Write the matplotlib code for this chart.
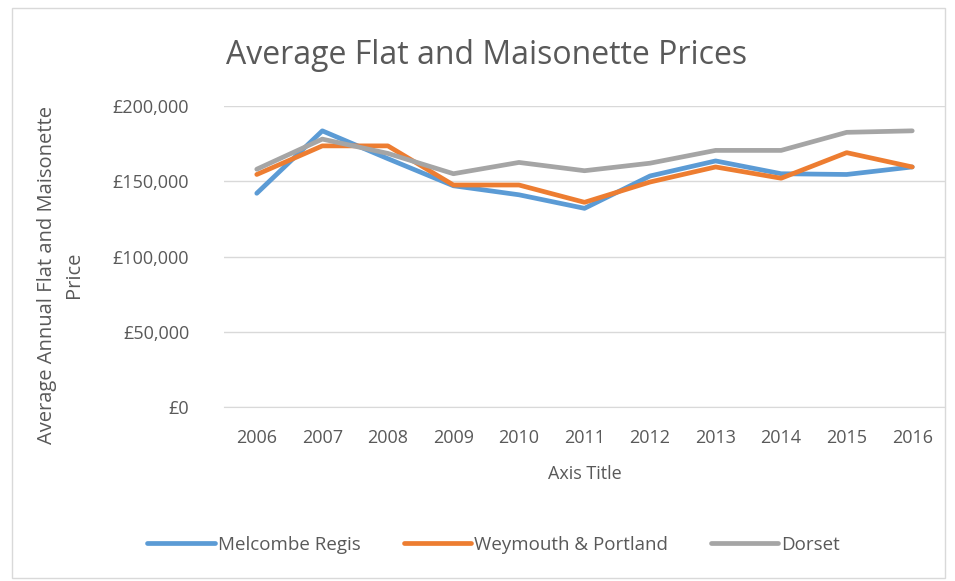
import numpy as np
import matplotlib.pyplot as plt
from matplotlib.patches import Rectangle
from matplotlib.ticker import FuncFormatter

years = ['2006', '2007', '2008', '2009', '2010', '2011', '2012', '2013', '2014', '2015', '2016']
melcombe = [142000, 183500, 165000, 147000, 141000, 132000, 153500, 163500, 155000, 154500, 159500]
weymouth = [154500, 173500, 173500, 147500, 147500, 136000, 149500, 159500, 152000, 169000, 159500]
dorset = [158000, 178000, 168500, 155000, 162500, 157000, 162000, 170500, 170500, 182500, 183500]

plt.rcParams['font.family'] = ['Open Sans', 'DejaVu Sans']
txt = '#595959'

fig = plt.figure(figsize=(9.55, 5.81), dpi=100)
fig.patches.append(Rectangle((12/955, 3/581), 933/955, 570/581, transform=fig.transFigure,
                             fill=False, edgecolor='#D9D9D9', linewidth=1))

ax = fig.add_axes([224/955, 1-407/581, 721/955, 301/581])
x = np.arange(len(years))
ax.plot(x, melcombe, color='#5B9BD5', lw=3.4, solid_capstyle='round', label='Melcombe Regis')
ax.plot(x, weymouth, color='#ED7D31', lw=3.4, solid_capstyle='round', label='Weymouth & Portland')
ax.plot(x, dorset, color='#A5A5A5', lw=3.4, solid_capstyle='round', label='Dorset')

ax.set_xlim(-0.5, len(years) - 0.5)
ax.set_ylim(0, 200000)
ax.set_yticks(np.arange(0, 200001, 50000))
ax.yaxis.set_major_formatter(FuncFormatter(lambda v, p: '£{:,.0f}'.format(v)))
ax.set_xticks(x)
ax.set_xticklabels(years)
ax.grid(axis='y', color='#D9D9D9', lw=1)
ax.set_axisbelow(True)
for s in ['top', 'right', 'left']:
    ax.spines[s].set_visible(False)
ax.spines['bottom'].set_color('#D9D9D9')
ax.tick_params(axis='both', length=0, colors=txt, labelsize=13)
ax.tick_params(axis='y', pad=25)
ax.tick_params(axis='x', pad=16)

ax.set_xlabel('Axis Title', color=txt, fontsize=13, labelpad=13)
fig.text(0.063, 1-275/581, 'Average Annual Flat and Maisonette\nPrice', rotation=90,
         ha='center', va='center', multialignment='center', color=txt, fontsize=14.5, linespacing=1.45)
fig.text(0.510, 1-55/581, 'Average Flat and Maisonette Prices', ha='center', va='center',
         color=txt, fontsize=23)

fig.legend(loc='center', bbox_to_anchor=(0.517, 1-545/581), ncol=3, frameon=False,
           fontsize=13.5, labelcolor=txt, handlelength=3.6, handletextpad=0.15, columnspacing=2.3)

plt.savefig('out.png', dpi=100)
